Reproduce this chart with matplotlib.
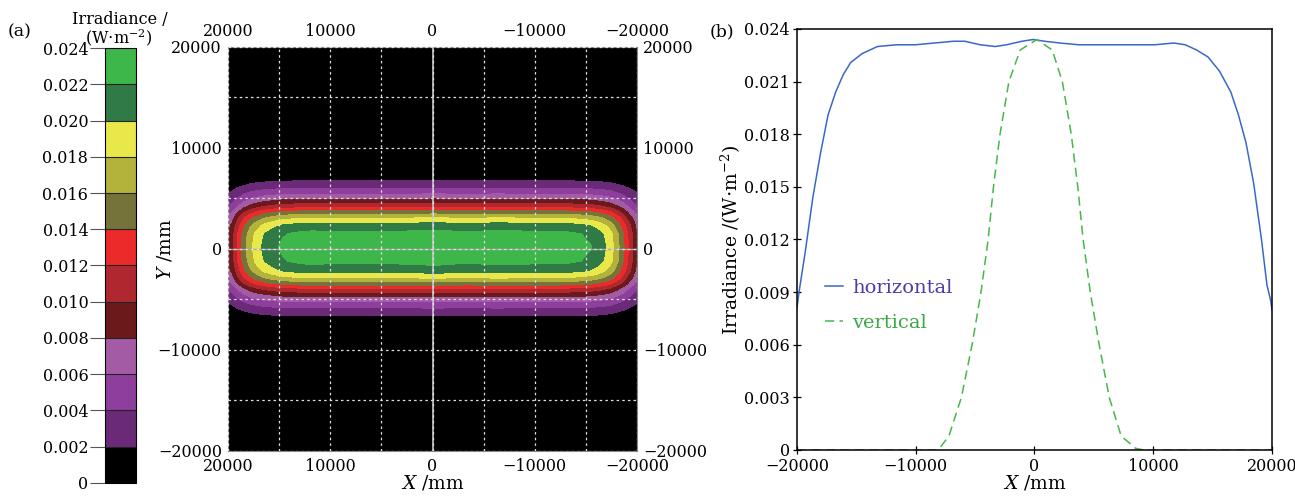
import matplotlib
matplotlib.use("Agg")
import matplotlib.pyplot as plt
import numpy as np
from matplotlib.colors import ListedColormap, BoundaryNorm
from matplotlib.ticker import MultipleLocator

plt.rcParams['font.family'] = ['DejaVu Serif']
plt.rcParams['mathtext.fontset'] = 'dejavuserif'
plt.rcParams['font.size'] = 11.5

# horizontal profile (blue)
h_x = [-20000, -19780, -19300, -18660, -18020, -17380, -16740, -16100, -15460, -14500,
       -13220, -11620, -10020, -8420, -6820, -5860, -4580, -3300, -2340, -1060,
       -100, 860, 2140, 3740, 5340, 6940, 8540, 10140, 11740, 12700,
       13660, 14620, 15580, 16540, 17180, 17820, 18460, 19100, 19580, 19900, 20000]
h_y = [0.0081, 0.0092, 0.0113, 0.0144, 0.0169, 0.0191, 0.0204, 0.0214, 0.0221, 0.0226,
       0.0230, 0.0231, 0.0231, 0.0232, 0.0233, 0.0233, 0.0231, 0.0230, 0.0231, 0.0233,
       0.0234, 0.0233, 0.0232, 0.0231, 0.0231, 0.0231, 0.0231, 0.0231, 0.0232, 0.0231,
       0.0228, 0.0224, 0.0216, 0.0204, 0.0191, 0.0175, 0.0152, 0.0121, 0.0094, 0.0085, 0.0080]

# vertical profile (green dashed)
v_x = [-20000, -15000, -10000, -8100, -7200, -6150, -5250, -4500, -3900, -3450,
       -2900, -2150, -1200, 200, 1500, 2350, 3100, 3650, 4100, 4700,
       5450, 6300, 7300, 8500, 9200, 15000, 20000]
v_y = [0, 0, 0, 0, 0.0008, 0.003, 0.006, 0.009, 0.012, 0.015,
       0.018, 0.021, 0.0228, 0.0234, 0.0228, 0.021, 0.018, 0.015, 0.012, 0.009,
       0.006, 0.003, 0.0008, 0.0001, 0, 0, 0]

levels = np.arange(0, 0.0241, 0.002)
level_colors = ['#000000', '#6a2a78', '#8e3e9c', '#a45ba6', '#6b1a1c', '#b0282f',
                '#ec2a2a', '#75733a', '#b3b23a', '#e8e84a', '#2f7a45', '#3db64a']
cb_labels = ['0', '0.002', '0.004', '0.006', '0.008', '0.010', '0.012',
             '0.014', '0.016', '0.018', '0.020', '0.022', '0.024']
b_yticks = [0, 0.003, 0.006, 0.009, 0.012, 0.015, 0.018, 0.021, 0.024]
b_ylabels = ['0', '0.003', '0.006', '0.009', '0.012', '0.015', '0.018', '0.021', '0.024']

fig = plt.figure(figsize=(12.95, 4.97), dpi=100)

# map (a): built from the two profiles
cmap = ListedColormap(level_colors)
norm = BoundaryNorm(levels, cmap.N)
hx = np.array(h_x)
hy = np.array(h_y)
vx = np.array(v_x)
vy = np.array(v_y)
Z = np.outer(vy, hy) / max(vy)

ax = fig.add_axes([0.1761, 0.0926, 0.3158, 0.8129])
ax.set_facecolor('black')
cs = ax.contourf(hx, vx, Z, levels=levels, cmap=cmap, norm=norm)
ax.set_xlim(20000, -20000)
ax.set_ylim(-20000, 20000)
ax.set_xticks([20000, 10000, 0, -10000, -20000])
ax.set_yticks([-20000, -10000, 0, 10000, 20000])
ax.xaxis.set_minor_locator(MultipleLocator(5000))
ax.yaxis.set_minor_locator(MultipleLocator(5000))
ax.grid(which='both', color='#e0e0e0', linestyle=(0, (2, 2.5)), linewidth=0.9)
ax.set_axisbelow(False)
ax.axvline(0, color='#c8c8c8', lw=1.2)
ax.axhline(0, color='#a8a8a8', lw=1.0)
ax.tick_params(which='both', length=0, top=True, right=True,
               labeltop=True, labelright=True)
ax.tick_params(axis='x', pad=5)
ax.tick_params(axis='y', pad=4.5)
for s in ax.spines.values():
    s.set_color('#888888')
ax.set_xlabel(r'$X$ /mm', labelpad=-1, fontsize=13.5)
ax.set_ylabel(r'$Y$ /mm', fontsize=13.5)
ax.yaxis.set_label_coords(-0.13, 0.5)

# colorbar
cax = fig.add_axes([0.0811, 0.0282, 0.0239, 0.8752])
cb = fig.colorbar(cs, cax=cax, ticks=levels, drawedges=True)
cb.outline.set_linewidth(0.8)
cb.dividers.set_color('#222222')
cb.dividers.set_linewidth(0.8)
cax.yaxis.set_ticks_position('left')
cax.set_yticklabels(cb_labels)
cax.tick_params(length=11, width=0.8, color='#555555', pad=1)
fig.text(0.0926, 0.960, 'Irradiance /', ha='center', va='center', fontsize=11.5)
fig.text(0.0915, 0.925, r'(W$\cdot$m$^{-2}$)', ha='center', va='center', fontsize=11.5)
fig.text(0.006, 0.935, '(a)', ha='left', va='center', fontsize=12.5)

# profiles (b)
bx = fig.add_axes([0.6154, 0.0946, 0.3668, 0.8471])
bx.plot(hx, hy, color='#3b67c9', lw=1.1, label='horizontal')
bx.plot(vx, vy, color='#45b84a', lw=1.1, dashes=(6, 3.5), label='vertical')
bx.set_xlim(-20000, 20000)
bx.set_ylim(0, 0.024)
bx.set_xticks([-20000, -10000, 0, 10000, 20000])
bx.set_yticks(b_yticks)
bx.set_yticklabels(b_ylabels)
bx.tick_params(direction='inout', length=6, width=0.9)
bx.tick_params(axis='x', pad=3)
bx.tick_params(axis='y', pad=2)
for s in bx.spines.values():
    s.set_linewidth(1.1)
bx.set_xlabel(r'$X$ /mm', labelpad=-1, fontsize=13.5)
bx.set_ylabel(r'Irradiance /(W$\cdot$m$^{-2}$)', labelpad=1, fontsize=13.5)
leg = bx.legend(loc='upper left', bbox_to_anchor=(0.022, 0.447), frameon=False,
                handlelength=0.95, handletextpad=0.45, labelspacing=0.85, fontsize=14)
for t, c in zip(leg.get_texts(), ['#4a3fa6', '#3aa845']):
    t.set_color(c)
fig.text(0.548, 0.935, '(b)', ha='left', va='center', fontsize=12.5)

fig.savefig('out.png', dpi=100)
